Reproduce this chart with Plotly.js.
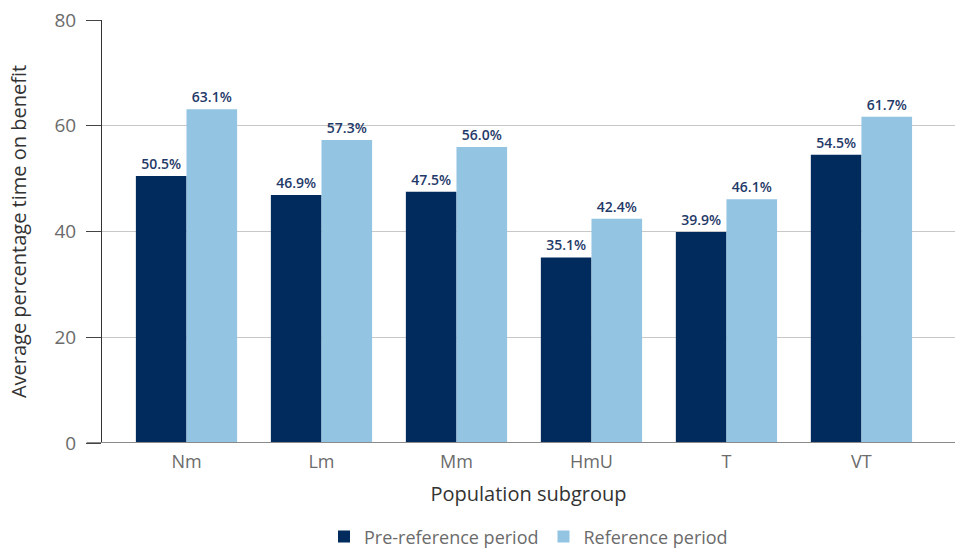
<!DOCTYPE html>
<html>
<head>
<meta charset="utf-8">
<script src="https://cdn.plot.ly/plotly-3.0.1.min.js"></script>
<style>html,body{margin:0;padding:0;background:#fff;}#chart{width:957px;height:550px;}</style>
</head>
<body>
<div id="chart"></div>
<script>
const categories = ["Nm", "Lm", "Mm", "HmU", "T", "VT"];
const preReference = [50.5, 46.9, 47.5, 35.1, 39.9, 54.5];
const reference = [63.1, 57.3, 56.0, 42.4, 46.1, 61.7];
const seriesNames = ["Pre-reference period", "Reference period"];
const yTicks = [0, 20, 40, 60, 80];

const FONT = "Open Sans, Noto Sans, sans-serif";
const labelFont = {family: FONT, size: 14, color: "#1f3a68", weight: 600};

const traces = [
  {
    type: "bar", name: seriesNames[0], x: categories, y: preReference,
    marker: {color: "#002b5c"},
    text: preReference.map(v => v.toFixed(1) + "%"),
    textposition: "outside", textfont: labelFont, cliponaxis: false,
    hoverinfo: "none"
  },
  {
    type: "bar", name: seriesNames[1], x: categories, y: reference,
    marker: {color: "#93c4e1"},
    text: reference.map(v => v.toFixed(1) + "%"),
    textposition: "outside", textfont: labelFont, cliponaxis: false,
    hoverinfo: "none"
  }
];

const layout = {
  width: 957, height: 550,
  margin: {l: 102, r: 2, t: 20, b: 107, autoexpand: false},
  paper_bgcolor: "#fff", plot_bgcolor: "#fff",
  barmode: "group", bargap: 0.25, bargroupgap: 0,
  font: {family: FONT, color: "#333"},
  xaxis: {
    type: "category",
    range: [-0.626, 5.693],
    showgrid: false, zeroline: false,
    showline: false,
    ticks: "", tickfont: {family: FONT, size: 18, color: "#6b6b6b"},
    ticklabelstandoff: 6,
    title: {text: "Population subgroup", font: {family: FONT, size: 20, color: "#333"}, standoff: 14}
  },
  yaxis: {
    range: [0, 80], tickvals: yTicks, ticktext: yTicks.map(String),
    showgrid: true, gridcolor: "#c8c8c8", gridwidth: 1,
    zeroline: false,
    showline: true, linecolor: "#333", linewidth: 1,
    ticks: "outside", ticklen: 15, tickcolor: "#444", tickwidth: 1,
    ticklabelstandoff: 6,
    tickfont: {family: FONT, size: 19, color: "#6b6b6b"},
    title: {text: "Average percentage time on benefit", font: {family: FONT, size: 20, color: "#333"}, standoff: 22}
  },
  shapes: [
    {type: "line", xref: "paper", yref: "y", x0: -0.018, x1: 1, y0: 0, y1: 0,
     line: {color: "#8a8a8a", width: 2}, layer: "above"}
  ],
  legend: {
    orientation: "h", x: 0.5, xanchor: "center", y: -0.222, yanchor: "middle",
    font: {family: FONT, size: 18, color: "#6b6b6b"},
    traceorder: "normal", itemwidth: 30
  },
  showlegend: true
};

Plotly.newPlot("chart", traces, layout, {displayModeBar: false, staticPlot: true});
</script>
</body>
</html>
